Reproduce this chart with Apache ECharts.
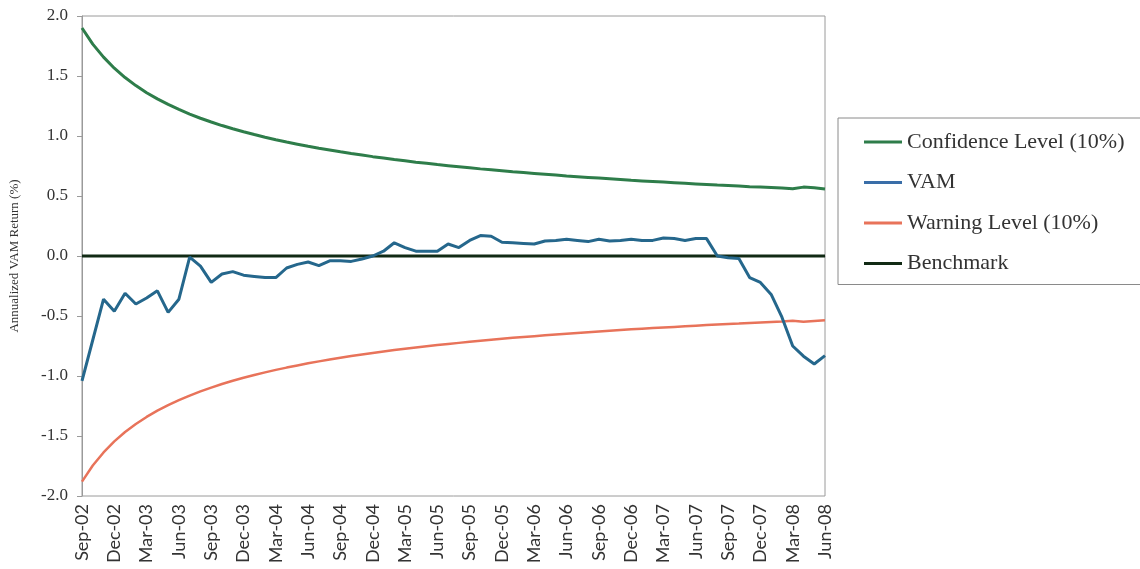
<!DOCTYPE html>
<html>
<head>
<meta charset="utf-8">
<script src="https://cdn.jsdelivr.net/npm/echarts@6/dist/echarts.min.js"></script>
<style>html,body{margin:0;padding:0;background:#fff;}#c{width:1140px;height:569px;}</style>
</head>
<body>
<div id="c"></div>
<script>
const months = [
"Sep-02","Oct-02","Nov-02","Dec-02","Jan-03","Feb-03","Mar-03","Apr-03","May-03","Jun-03","Jul-03","Aug-03",
"Sep-03","Oct-03","Nov-03","Dec-03","Jan-04","Feb-04","Mar-04","Apr-04","May-04","Jun-04","Jul-04","Aug-04",
"Sep-04","Oct-04","Nov-04","Dec-04","Jan-05","Feb-05","Mar-05","Apr-05","May-05","Jun-05","Jul-05","Aug-05",
"Sep-05","Oct-05","Nov-05","Dec-05","Jan-06","Feb-06","Mar-06","Apr-06","May-06","Jun-06","Jul-06","Aug-06",
"Sep-06","Oct-06","Nov-06","Dec-06","Jan-07","Feb-07","Mar-07","Apr-07","May-07","Jun-07","Jul-07","Aug-07",
"Sep-07","Oct-07","Nov-07","Dec-07","Jan-08","Feb-08","Mar-08","Apr-08","May-08","Jun-08"];

const confidence = [
1.900,1.766,1.657,1.565,1.487,1.420,1.361,1.309,1.263,1.221,1.183,1.148,
1.117,1.087,1.060,1.035,1.012,0.990,0.969,0.950,0.932,0.914,0.898,0.883,
0.868,0.854,0.841,0.828,0.816,0.804,0.793,0.782,0.772,0.762,0.753,0.744,
0.735,0.726,0.718,0.710,0.702,0.695,0.688,0.681,0.674,0.667,0.661,0.655,
0.649,0.643,0.637,0.631,0.626,0.621,0.616,0.611,0.606,0.601,0.596,0.591,
0.587,0.583,0.578,0.574,0.570,0.566,0.560,0.574,0.568,0.558];

const vam = [
-1.04,-0.70,-0.36,-0.46,-0.31,-0.40,-0.35,-0.29,-0.47,-0.36,-0.01,-0.085,
-0.22,-0.15,-0.13,-0.16,-0.17,-0.18,-0.18,-0.10,-0.07,-0.05,-0.08,-0.04,
-0.04,-0.045,-0.025,0.0,0.04,0.11,0.07,0.04,0.04,0.04,0.10,0.07,
0.13,0.17,0.165,0.115,0.11,0.105,0.10,0.125,0.13,0.14,0.13,0.12,
0.14,0.125,0.13,0.14,0.13,0.13,0.15,0.145,0.13,0.145,0.145,0.0,
-0.015,-0.02,-0.18,-0.22,-0.32,-0.51,-0.75,-0.835,-0.90,-0.83];

const warning = [
-1.880,-1.746,-1.637,-1.545,-1.467,-1.400,-1.341,-1.289,-1.243,-1.201,-1.163,-1.128,
-1.097,-1.067,-1.040,-1.015,-0.992,-0.970,-0.949,-0.930,-0.912,-0.894,-0.878,-0.863,
-0.848,-0.834,-0.821,-0.808,-0.796,-0.784,-0.773,-0.762,-0.752,-0.742,-0.733,-0.724,
-0.715,-0.706,-0.698,-0.690,-0.682,-0.675,-0.668,-0.661,-0.654,-0.647,-0.641,-0.635,
-0.629,-0.623,-0.617,-0.611,-0.606,-0.601,-0.596,-0.591,-0.586,-0.581,-0.576,-0.571,
-0.567,-0.563,-0.558,-0.554,-0.550,-0.546,-0.540,-0.547,-0.541,-0.535];

const benchmark = [
0,0,0,0,0,0,0,0,0,0,0,0,
0,0,0,0,0,0,0,0,0,0,0,0,
0,0,0,0,0,0,0,0,0,0,0,0,
0,0,0,0,0,0,0,0,0,0,0,0,
0,0,0,0,0,0,0,0,0,0,0,0,
0,0,0,0,0,0,0,0,0,0];

const seriesNames = ["Confidence Level (10%)","VAM","Warning Level (10%)","Benchmark"];

const chart = echarts.init(document.getElementById('c'));
const serif = "'Liberation Serif', 'DejaVu Serif', serif";
chart.setOption({
  backgroundColor: '#fff',
  animation: false,
  grid: {left: 79, right: 315, top: 16, bottom: 73, show: true, borderColor: '#9a9a9a', borderWidth: 1},
  legend: {
    orient: 'vertical', left: 838, top: 118,
    data: seriesNames,
    icon: 'rect', itemWidth: 38, itemHeight: 3, itemGap: 18.5,
    padding: [13, 40, 10, 26],
    borderColor: '#8a8a8a', borderWidth: 1,
    textStyle: {fontFamily: serif, fontSize: 22, color: '#333'}
  },
  xAxis: {
    type: 'category', data: months, boundaryGap: false,
    axisLine: {lineStyle: {color: '#9a9a9a'}},
    axisTick: {show: false},
    axisLabel: {interval: 2, rotate: 90, fontFamily: "Lato, 'Open Sans', sans-serif", fontSize: 18, color: '#333', margin: 8}
  },
  yAxis: {
    type: 'value', min: -2, max: 2, interval: 0.5,
    name: 'Annualized VAM Return (%)', nameLocation: 'middle', nameGap: 61, nameRotate: 90,
    nameTextStyle: {fontFamily: serif, fontSize: 13, color: '#333'},
    axisLine: {show: true, lineStyle: {color: '#9a9a9a'}},
    axisTick: {show: true, length: 5, lineStyle: {color: '#9a9a9a'}},
    splitLine: {show: false},
    axisLabel: {formatter: v => v.toFixed(1), fontFamily: serif, fontSize: 17, color: '#333', margin: 14}
  },
  series: [
    {name: seriesNames[0], type: 'line', data: confidence, showSymbol: false,
     lineStyle: {color: '#2e7d4a', width: 3}, itemStyle: {color: '#2e7d4a'}, z: 2},
    {name: seriesNames[1], type: 'line', data: vam, showSymbol: false,
     lineStyle: {color: '#25678c', width: 3}, itemStyle: {color: '#3a6ea8'}, z: 4},
    {name: seriesNames[2], type: 'line', data: warning, showSymbol: false,
     lineStyle: {color: '#e8735a', width: 2.5}, itemStyle: {color: '#e8735a'}, z: 2},
    {name: seriesNames[3], type: 'line', data: benchmark, showSymbol: false,
     lineStyle: {color: '#112a14', width: 3}, itemStyle: {color: '#112a14'}, z: 3}
  ]
});
</script>
</body>
</html>
